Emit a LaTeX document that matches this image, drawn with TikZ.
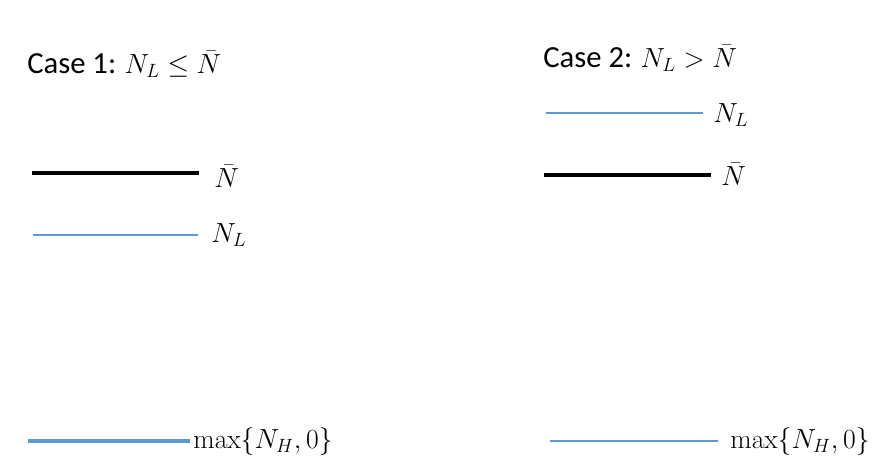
\documentclass[tikz,border=0pt]{standalone}
\usepackage[no-math]{fontspec}
\setmainfont{Carlito}
\definecolor{lineblue}{HTML}{5B9BD5}
\tikzset{
  lbl/.style={anchor=base west, inner sep=0pt, font=\fontsize{21}{24}\selectfont},
  blueline/.style={draw=lineblue, line width=1.5pt},
  blackline/.style={draw=black, line width=2.4pt},
}
\newcommand{\casetxt}[1]{{\fontsize{23}{27}\selectfont #1}}
\begin{document}
\begin{tikzpicture}[x=0.75pt,y=-0.75pt]
\useasboundingbox (0,0) rectangle (873,469);
% Case 1
\node[lbl] (c1) at (27,73) {\casetxt{Case 1:} $N_L\le\bar{N}$};
\coordinate (a1) at (32,173); \coordinate (a2) at (199,173);
\draw[blackline] (a1) -- (a2);
\node[lbl] (nb1) at (214,187) {$\bar{N}$};
\coordinate (b1) at (33,235); \coordinate (b2) at (198,235);
\draw[blueline] (b1) -- (b2);
\node[lbl] (nl1) at (211,242) {$N_L$};
\coordinate (d1) at (28,441); \coordinate (d2) at (190,441);
\draw[blueline, line width=2.4pt] (d1) -- (d2);
\node[lbl] (m1) at (193,448) {$\max\{N_H,0\}$};
% Case 2
\node[lbl] (c2) at (543,67) {\casetxt{Case 2:} $N_L>\bar{N}$};
\coordinate (e1) at (546,113); \coordinate (e2) at (703,113);
\draw[blueline] (e1) -- (e2);
\node[lbl] (nl2) at (713,122) {$N_L$};
\coordinate (f1) at (544,175); \coordinate (f2) at (711,175);
\draw[blackline, line width=3.6pt] (f1) -- (f2);
\node[lbl] (nb2) at (721,185) {$\bar{N}$};
\coordinate (g1) at (550,441); \coordinate (g2) at (718,441);
\draw[blueline] (g1) -- (g2);
\node[lbl] (m2) at (730,448) {$\max\{N_H,0\}$};
\end{tikzpicture}
\end{document}
